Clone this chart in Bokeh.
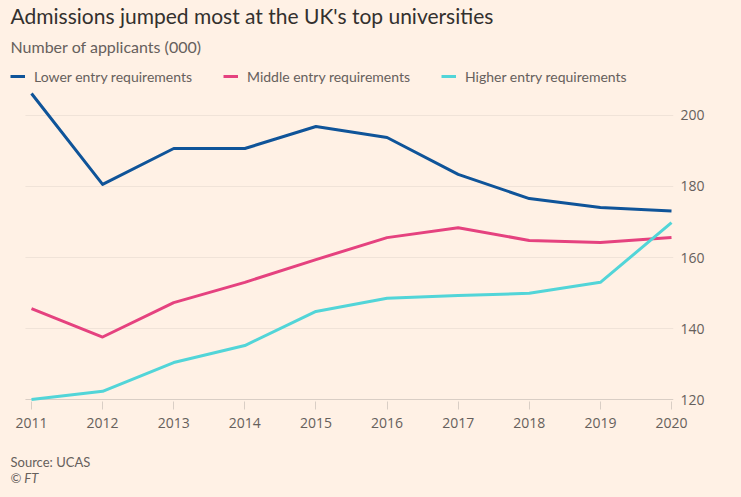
from bokeh.plotting import figure
from bokeh.models import Label, Legend, LegendItem, FixedTicker, Range1d, Title
from bokeh.embed import file_html
from bokeh.resources import INLINE

# ---- data ----
years = [2011, 2012, 2013, 2014, 2015, 2016, 2017, 2018, 2019, 2020]
lower = [206.2, 180.6, 190.7, 190.7, 196.9, 193.8, 183.4, 176.6, 174.1, 173.1]
middle = [145.6, 137.6, 147.3, 153.0, 159.4, 165.6, 168.4, 164.8, 164.2, 165.6]
higher = [120.0, 122.3, 130.4, 135.2, 144.8, 148.5, 149.3, 149.9, 153.0, 169.8]
series_names = ["Lower entry requirements", "Middle entry requirements", "Higher entry requirements"]
y_ticks = [120, 140, 160, 180, 200]
x_ticks = years

title_text = "Admissions jumped most at the UK's top universities"
subtitle_text = "Number of applicants (000)"
source_text = "Source: UCAS"
credit_text = "\u00a9 FT"

BG = "#FFF1E5"
TXT = "#33302E"
GREY = "#66605C"
FONT = "Lato"
TICK_FONT = "Open Sans"
colors = ["#0F5499", "#E5427F", "#52D5D8"]

# frame covers the whole top-left of the canvas so titles/legend can live inside it
p = figure(width=741, height=497,
           x_range=Range1d(2010.5641, 2020.0281), y_range=Range1d(119.437, 232.394),
           output_backend="svg", toolbar_location=None,
           y_axis_location="right",
           min_border_left=0, min_border_right=68,
           min_border_top=0, min_border_bottom=96)

p.background_fill_color = BG
p.border_fill_color = BG
p.outline_line_color = None
p.title.visible = False

# grid lines drawn only across the plotted span (from just before the first year)
p.xgrid.grid_line_color = None
p.ygrid.grid_line_color = None
grid_x0 = years[0] - 0.085
grid_x1 = years[-1] + 0.028
grid_vals = [t for t in y_ticks if t != y_ticks[0]]
p.segment(x0=[grid_x0] * len(grid_vals), x1=[grid_x1] * len(grid_vals),
          y0=grid_vals, y1=grid_vals, line_color="#F0E3D8", line_width=1)
p.segment(x0=[grid_x0], x1=[grid_x1], y0=[y_ticks[0]], y1=[y_ticks[0]],
          line_color="#D9CEC5", line_width=1)

# x axis
p.xaxis.ticker = FixedTicker(ticks=x_ticks)
p.xaxis.axis_line_color = None
p.xaxis.major_tick_line_color = "#D9CEC5"
p.xaxis.major_tick_out = 8
p.xaxis.major_tick_in = 0
p.xaxis.minor_tick_line_color = None
p.xaxis.major_label_text_font = TICK_FONT
p.xaxis.major_label_text_font_size = "14px"
p.xaxis.major_label_text_color = GREY
p.xaxis.major_label_standoff = 8

# y axis (right)
p.yaxis.ticker = FixedTicker(ticks=y_ticks)
p.yaxis.axis_line_color = None
p.yaxis.major_tick_line_color = None
p.yaxis.major_tick_out = 0
p.yaxis.major_tick_in = 0
p.yaxis.minor_tick_line_color = None
p.yaxis.major_label_text_font = TICK_FONT
p.yaxis.major_label_text_font_size = "14px"
p.yaxis.major_label_text_color = GREY
p.yaxis.major_label_standoff = 7

items = []
for name, vals, col in zip(series_names, [lower, middle, higher], colors):
    r = p.line(years, vals, line_color=col, line_width=3, line_join="round")
    items.append(LegendItem(label=name, renderers=[r]))

legend = Legend(items=items, orientation="horizontal", location=(10, 315),
                background_fill_alpha=0, border_line_color=None,
                label_text_font=FONT, label_text_font_size="14px", label_text_color=GREY,
                glyph_width=15, glyph_height=14, label_standoff=9, spacing=31,
                label_height=20, padding=0, margin=0)
p.add_layout(legend)

FRAME_BOTTOM = 401  # page y of the frame bottom

def lab(text, x, y, size, color, style="normal"):
    p.add_layout(Label(x=x, y=FRAME_BOTTOM - y, x_units="screen", y_units="screen", text=text,
                       text_font=FONT, text_font_size=size, text_color=color,
                       text_font_style=style, text_baseline="middle", text_align="left"))

lab(title_text, 10, 15, "21px", TXT)
lab(subtitle_text, 10, 46, "16px", GREY)

# spacing between the axis and the source line, then source + credit
p.add_layout(Title(text=" ", align="left", offset=10, text_font=FONT,
                   text_font_size="13px", text_color=GREY, standoff=3), "below")
p.add_layout(Title(text=source_text, align="left", offset=10, text_font=FONT,
                   text_font_size="13px", text_color=GREY, text_font_style="normal",
                   vertical_align="bottom", standoff=0), "below")
p.add_layout(Title(text=credit_text, align="left", offset=10, text_font=FONT,
                   text_font_size="13px", text_color=GREY, text_font_style="italic",
                   vertical_align="top", standoff=0), "below")

html = file_html(p, INLINE)
html = html.replace("<head>", "<head><style>body{background:#FFF1E5;}</style>", 1)
open("out.html", "w").write(html)
